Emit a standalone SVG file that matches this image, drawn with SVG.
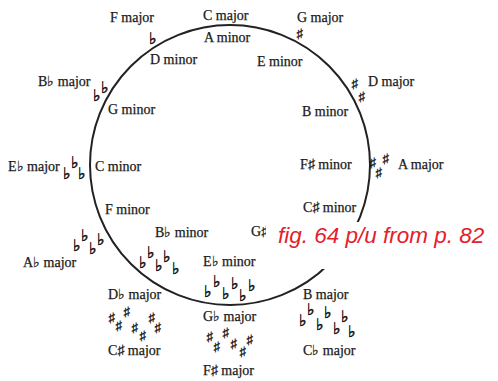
<svg xmlns="http://www.w3.org/2000/svg" width="498" height="381" viewBox="0 0 498 381">
<style>
.lbl{font-family:"Liberation Serif","Times New Roman",serif;font-size:14px;fill:#1a1a1a;stroke:#1a1a1a;stroke-width:0.25}
.fl,.sh{font-family:"Liberation Serif","Times New Roman",serif;fill:#111;stroke:#111;text-anchor:middle}
.fl{font-size:16px;stroke-width:0.5}
.sh{font-size:13px;stroke-width:0.25}
.ring{fill:none;stroke:#222;stroke-width:2}
.note{font-family:"Liberation Sans",Arial,sans-serif;font-style:italic;font-size:22.5px;fill:#e3202b}
</style>
<rect width="498" height="381" fill="#fff"/>
<g id="connectors">
<circle class="ring" cx="230" cy="165" r="140"/>
</g>
<g id="key-C"><text class="lbl" x="203" y="20">C major</text><text class="lbl" x="204" y="42">A minor</text></g>
<g id="key-G"><text class="lbl" x="297" y="22">G major</text><text class="sh" x="300" y="38">♯</text><text class="lbl" x="257" y="66">E minor</text></g>
<g id="key-D"><text class="lbl" x="368" y="86">D major</text><text class="sh" x="355" y="88">♯</text><text class="sh" x="362" y="101">♯</text><text class="lbl" x="302" y="116">B minor</text></g>
<g id="key-A"><text class="lbl" x="398" y="169">A major</text><text class="sh" x="373" y="167">♯</text><text class="sh" x="379" y="177">♯</text><text class="sh" x="386" y="163">♯</text><text class="lbl" x="300" y="169">F♯ minor</text></g>
<g id="key-E"><text class="lbl" x="303" y="212">C♯ minor</text></g>
<g id="key-B"><text class="lbl" x="251" y="236">G♯</text><text class="lbl" x="303" y="299">B major</text>
<text class="fl" x="303" y="326">♭</text><text class="fl" x="311" y="315">♭</text><text class="fl" x="320" y="330">♭</text><text class="fl" x="328" y="318">♭</text><text class="fl" x="337" y="334">♭</text><text class="fl" x="345" y="322">♭</text><text class="fl" x="352" y="337">♭</text>
<text class="lbl" x="303" y="355">C♭ major</text></g>
<g id="key-Gb"><text class="lbl" x="203" y="266">E♭ minor</text>
<text class="fl" x="208" y="297">♭</text><text class="fl" x="217" y="287">♭</text><text class="fl" x="226" y="299">♭</text><text class="fl" x="235" y="289">♭</text><text class="fl" x="243" y="301">♭</text><text class="fl" x="252" y="291">♭</text>
<text class="lbl" x="203" y="321">G♭ major</text>
<text class="sh" x="210" y="341">♯</text><text class="sh" x="217" y="351">♯</text><text class="sh" x="226" y="337">♯</text><text class="sh" x="234" y="348">♯</text><text class="sh" x="243" y="356">♯</text><text class="sh" x="250" y="344">♯</text>
<text class="lbl" x="203" y="375">F♯ major</text></g>
<g id="key-Db"><text class="lbl" x="155" y="237">B♭ minor</text>
<text class="fl" x="143" y="268">♭</text><text class="fl" x="151" y="258">♭</text><text class="fl" x="159" y="271">♭</text><text class="fl" x="167" y="262">♭</text><text class="fl" x="176" y="274">♭</text>
<text class="lbl" x="108" y="299">D♭ major</text>
<text class="sh" x="112" y="322">♯</text><text class="sh" x="119" y="330">♯</text><text class="sh" x="127" y="316">♯</text><text class="sh" x="135" y="332">♯</text><text class="sh" x="143" y="340">♯</text><text class="sh" x="152" y="322">♯</text><text class="sh" x="158" y="332">♯</text>
<text class="lbl" x="108" y="355">C♯ major</text></g>
<g id="key-Ab"><text class="lbl" x="105" y="214">F minor</text>
<text class="fl" x="77" y="251">♭</text><text class="fl" x="85" y="241">♭</text><text class="fl" x="93" y="254">♭</text><text class="fl" x="101" y="245">♭</text>
<text class="lbl" x="23" y="267">A♭ major</text></g>
<g id="key-Eb"><text class="lbl" x="8" y="171">E♭ major</text>
<text class="fl" x="67" y="179">♭</text><text class="fl" x="75" y="168">♭</text><text class="fl" x="82" y="179">♭</text>
<text class="lbl" x="95" y="171">C minor</text></g>
<g id="key-Bb"><text class="lbl" x="38" y="86">B♭ major</text>
<text class="fl" x="97" y="101">♭</text><text class="fl" x="105" y="93">♭</text>
<text class="lbl" x="108" y="114">G minor</text></g>
<g id="key-F"><text class="lbl" x="110" y="22">F major</text><text class="fl" x="153" y="44">♭</text><text class="lbl" x="150" y="64">D minor</text></g>
<g id="caption"><rect x="266" y="222" width="232" height="47" fill="#fff"/><text class="note" x="278" y="243">fig. 64 p/u from p. 82</text></g>
</svg>
